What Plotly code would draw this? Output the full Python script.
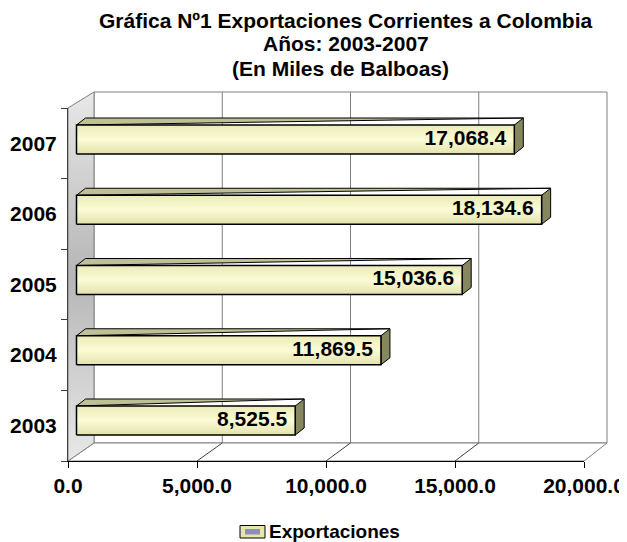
import plotly.graph_objects as go

years = ["2003", "2004", "2005", "2006", "2007"]
exports = [8525.5, 11869.5, 15036.6, 18134.6, 17068.4]
x_ticks = [0, 5000, 10000, 15000, 20000]
labels = [f"{v:,.1f}" for v in exports]

# the page puts the figure 8px in from the window corner, so the figure is
# made 8px smaller and every reference pixel position is shifted by OFF
W, H, OFF = 627, 542, 8
WF, HF = W - OFF, H - OFF
FONT = "Liberation Sans, Arial, sans-serif"

SCALE = 0.02565                     # px per unit along the value axis
BAR_X0, ROW0_Y, ROW_STEP = 76.5, 420.5, 70.25
FRONT_L, FRONT_R, FRONT_B, FRONT_T = 68, 584, 461, 108
BACK_L, BACK_R, BACK_B, BACK_T = 94, 607, 443, 92
DEPTH_X, DEPTH_Y = 9, 7             # bar depth in px
BAR_H = 29 / ROW_STEP               # bar thickness in row units


def ux(px):
    return (px - BAR_X0) / SCALE


def uy(py):
    return (ROW0_Y - py) / ROW_STEP


def paper_x(px):
    return (px - OFF) / WF


def paper_y(py):
    return 1 - (py - OFF) / HF


def front_px(v):
    return FRONT_L + v * (FRONT_R - FRONT_L) / x_ticks[-1]


def back_px(v):
    return BACK_L + v * (BACK_R - BACK_L) / x_ticks[-1]


dx = DEPTH_X / SCALE
dy = DEPTH_Y / ROW_STEP
GRAY = "#808080"

fig = go.Figure()

# back wall
fig.add_shape(type="rect", xref="x", yref="y",
              x0=ux(BACK_L), x1=ux(BACK_R), y0=uy(BACK_B), y1=uy(BACK_T),
              line={"color": GRAY, "width": 1}, fillcolor="white", layer="below")
for t in x_ticks[1:-1]:
    fig.add_shape(type="line", xref="x", yref="y",
                  x0=ux(back_px(t)), x1=ux(back_px(t)), y0=uy(BACK_B), y1=uy(BACK_T),
                  line={"color": GRAY, "width": 1}, layer="below")

# floor
fig.add_trace(go.Scatter(
    x=[ux(FRONT_L), ux(BACK_L), ux(BACK_R), ux(FRONT_R), ux(FRONT_L)],
    y=[uy(FRONT_B), uy(BACK_B), uy(BACK_B), uy(FRONT_B), uy(FRONT_B)],
    mode="lines", fill="toself", fillcolor="white",
    line={"color": GRAY, "width": 1}, hoverinfo="skip", showlegend=False,
))
gx, gy = [], []
for t in x_ticks[1:-1]:
    gx += [ux(front_px(t)), ux(back_px(t)), None]
    gy += [uy(FRONT_B), uy(BACK_B), None]
fig.add_trace(go.Scatter(x=gx, y=gy, mode="lines", line={"color": "#404040", "width": 1},
                         hoverinfo="skip", showlegend=False))

# left wall
fig.add_trace(go.Scatter(
    x=[ux(FRONT_L), ux(BACK_L), ux(BACK_L), ux(FRONT_L), ux(FRONT_L)],
    y=[uy(FRONT_T), uy(BACK_T), uy(BACK_B), uy(FRONT_B), uy(FRONT_T)],
    mode="lines", fill="toself",
    fillgradient={"type": "vertical",
                  "colorscale": [[0, "#e8e8e8"], [0.5, "#b6b6b6"], [1, "#e8e8e8"]]},
    line={"color": GRAY, "width": 1}, hoverinfo="skip", showlegend=False,
))

# bars: top, side and front faces
for i, v in enumerate(exports):
    y0, y1 = i - BAR_H / 2, i + BAR_H / 2
    fig.add_trace(go.Scatter(
        x=[0, v + dx, v + dx, dx, 0], y=[y1, y1 + dy, y1 + dy, y1 + dy, y1],
        mode="lines", fill="toself", fillcolor="#c0c096",
        line={"color": "black", "width": 1}, hoverinfo="skip", showlegend=False,
    ))
    fig.add_trace(go.Scatter(
        x=[v, v, v + dx, v + dx, v], y=[y0, y1, y1 + dy, y0 + dy, y0],
        mode="lines", fill="toself", fillcolor="#86865f",
        line={"color": "black", "width": 1}, hoverinfo="skip", showlegend=False,
    ))
    fig.add_trace(go.Scatter(
        x=[0, v, v, 0, 0], y=[y0, y0, y1, y1, y0],
        mode="lines", fill="toself",
        fillgradient={"type": "vertical",
                      "colorscale": [[0, "#e2e2ac"], [0.5, "#fbfbd6"], [1, "#ebebb8"]]},
        line={"color": "black", "width": 1.5}, hoverinfo="skip", showlegend=False,
    ))

# data labels
fig.add_trace(go.Scatter(
    x=[v - 8 / SCALE for v in exports], y=list(range(len(years))),
    mode="text", text=labels, textposition="middle left",
    textfont={"family": FONT, "size": 21, "color": "black", "weight": "bold"},
    hoverinfo="skip", showlegend=False,
))

# front axes carrying the tick labels
fig.add_trace(go.Scatter(
    x=exports, y=years, xaxis="x2", yaxis="y2", mode="markers",
    marker={"opacity": 0}, hoverinfo="skip", showlegend=False,
))

tick_font = {"family": FONT, "size": 21, "color": "black", "weight": "bold"}
fig.update_layout(
    width=WF, height=HF, autosize=False,
    margin={"l": 0, "r": 0, "t": 0, "b": 0, "pad": 0},
    paper_bgcolor="white", plot_bgcolor="rgba(0,0,0,0)",
    xaxis={"range": [ux(OFF), ux(W)], "visible": False, "domain": [0, 1], "automargin": False},
    yaxis={"range": [uy(H), uy(OFF)], "visible": False, "domain": [0, 1], "automargin": False},
    xaxis2={"domain": [paper_x(FRONT_L), paper_x(FRONT_R)], "anchor": "y2",
            "range": [0, x_ticks[-1]],
            "tickvals": x_ticks, "tickformat": ",.1f", "ticks": "outside", "ticklen": 6,
            "tickcolor": "black", "showline": True, "linecolor": "black", "linewidth": 1,
            "showgrid": False, "zeroline": False, "tickfont": tick_font, "automargin": False},
    yaxis2={"domain": [paper_y(FRONT_B), paper_y(FRONT_T)], "anchor": "x2",
            "type": "category", "categoryorder": "array", "categoryarray": years,
            "range": [-0.5, len(years) - 0.5], "tickson": "boundaries",
            "ticks": "outside", "ticklen": 6, "tickcolor": "#404040",
            "showline": True, "linecolor": "#404040", "linewidth": 1,
            "ticklabelstandoff": 6,
            "showgrid": False, "tickfont": tick_font, "automargin": False},
    showlegend=False,
)

# title
title_font = {"family": FONT, "size": 21, "color": "black", "weight": "bold"}
for text, cx, cy in [
    ("Gráfica Nº1 Exportaciones Corrientes a Colombia", 345, 20),
    ("Años: 2003-2007", 346, 44),
    ("(En Miles de Balboas)", 341, 69),
]:
    fig.add_annotation(text=text, x=paper_x(cx), y=paper_y(cy), xref="paper", yref="paper",
                       xanchor="center", yanchor="middle", showarrow=False, font=title_font)

# legend
fig.add_shape(type="rect", xref="paper", yref="paper",
              x0=paper_x(240), x1=paper_x(265), y0=paper_y(538), y1=paper_y(525.5),
              line={"color": "black", "width": 1}, fillcolor="#e6e6a8")
fig.add_shape(type="rect", xref="paper", yref="paper",
              x0=paper_x(245), x1=paper_x(260), y0=paper_y(534.5), y1=paper_y(529),
              line={"width": 0}, fillcolor="#8e8eb8")
fig.add_annotation(text="Exportaciones", x=paper_x(267), y=paper_y(531.5),
                   xref="paper", yref="paper", xanchor="left", yanchor="middle",
                   showarrow=False,
                   font={"family": FONT, "size": 19, "color": "black", "weight": "bold"})

fig.write_html("out.html")
